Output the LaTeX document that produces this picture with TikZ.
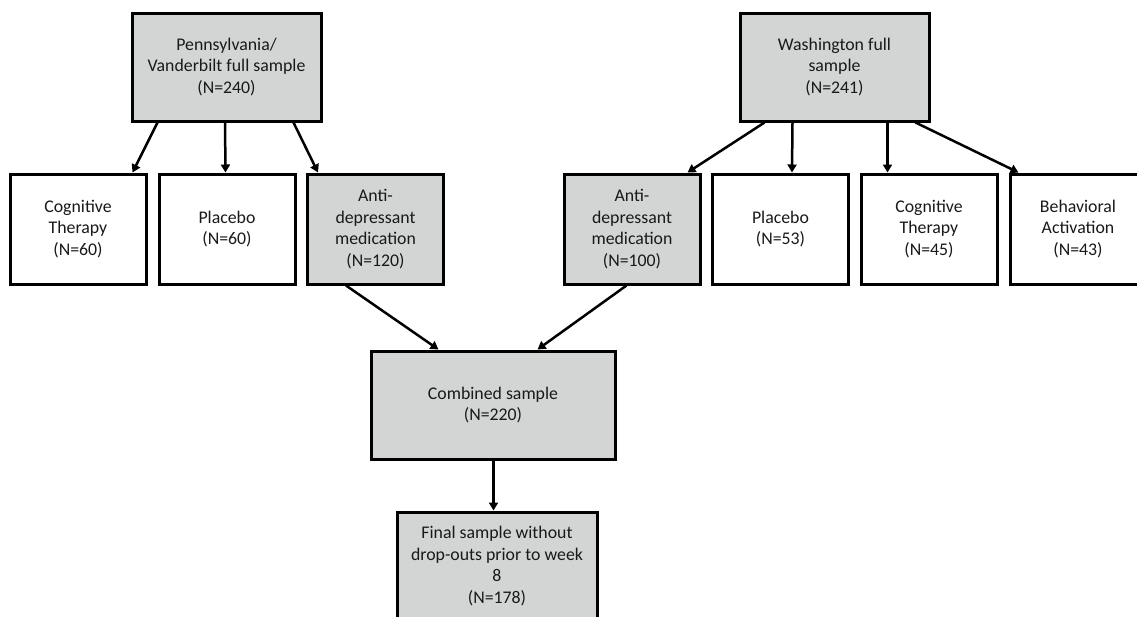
\documentclass[tikz,border=0pt]{standalone}
\usepackage{fontspec}
\setmainfont{Carlito}
\usetikzlibrary{arrows.meta}
\definecolor{boxgray}{RGB}{211,212,212}
\begin{document}
\begin{tikzpicture}[x=1pt,y=-1pt,
  box/.style={draw=black, line width=3pt, inner sep=0pt, align=center,
    font=\fontsize{17.8pt}{21.7pt}\selectfont, text=black!90},
  gbox/.style={box, fill=boxgray},
  wbox/.style={box, fill=white},
  topbox/.style={minimum width=189pt, minimum height=108pt},
  kidbox/.style={minimum width=136pt, minimum height=110pt},
  arr/.style={line width=2.5pt, -{Triangle[length=8pt,width=9pt]}}]
\useasboundingbox (0,0) rectangle (1137,616);
\clip (0,0) rectangle (1137,616);
\fill[color=white] (0,0) rectangle (1137,616);
\node[gbox, topbox] (pv) at (226.5,67) {Pennsylvania/\\Vanderbilt full sample\\(N=240)};
\node[gbox, topbox] (wa) at (834.5,67) {Washington full\\sample\\(N=241)};
\node[wbox, kidbox] (ct1) at (78,229) {Cognitive\\Therapy\\(N=60)};
\node[wbox, kidbox] (pl1) at (227,229) {Placebo\\(N=60)};
\node[gbox, kidbox] (ad1) at (375.5,229) {Anti-\\depressant\\medication\\(N=120)};
\node[gbox, kidbox] (ad2) at (632,229) {Anti-\\depressant\\medication\\(N=100)};
\node[wbox, kidbox] (pl2) at (780.5,229) {Placebo\\(N=53)};
\node[wbox, kidbox] (ct2) at (929,229) {Cognitive\\Therapy\\(N=45)};
\node[wbox, kidbox] (ba) at (1078,229) {Behavioral\\Activation\\(N=43)};
\node[gbox, minimum width=244pt, minimum height=108pt] (comb) at (493,405) {Combined sample\\(N=220)};
\node[gbox, minimum width=200pt, minimum height=108pt] (fin) at (497,566) {Final sample without\\drop-outs prior to week\\8\\(N=178)};
\draw[arr] ([xshift=27pt]pv.south west) -- ([xshift=124pt]ct1.north west);
\draw[arr] ([xshift=94.5pt]pv.south west) -- ([xshift=68pt]pl1.north west);
\draw[arr] ([xshift=163pt]pv.south west) -- ([xshift=12pt]ad1.north west);
\draw[arr] ([xshift=26pt]wa.south west) -- ([xshift=125pt]ad2.north west);
\draw[arr] ([xshift=54pt]wa.south west) -- ([xshift=81pt]pl2.north west);
\draw[arr] ([xshift=149pt]wa.south west) -- ([xshift=28pt]ct2.north west);
\draw[arr] ([xshift=177pt]wa.south west) -- ([xshift=10pt]ba.north west);
\draw[arr] ([xshift=40pt]ad1.south west) -- ([xshift=69pt]comb.north west);
\draw[arr] ([xshift=64pt]ad2.south west) -- ([xshift=168pt]comb.north west);
\draw[arr] ([xshift=124pt]comb.south west) -- ([xshift=98pt]fin.north west);
\end{tikzpicture}
\end{document}
